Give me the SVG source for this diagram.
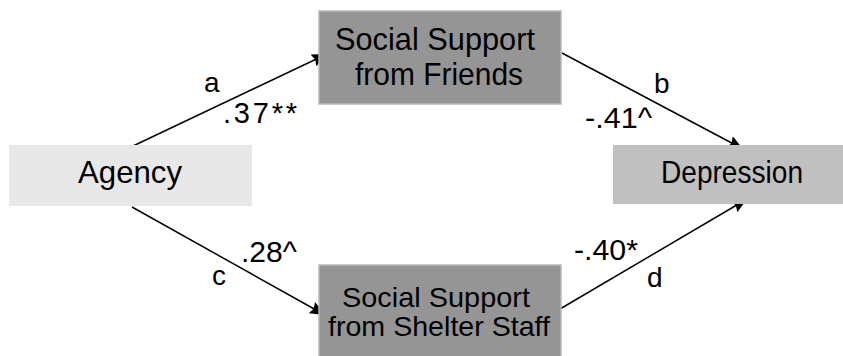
<svg xmlns="http://www.w3.org/2000/svg" width="843" height="356" viewBox="0 0 843 356">
<defs>
<style>
.box-dark{fill:#959595;stroke:#b8b8b8;stroke-width:1.5}
.box-light{fill:#e8e8e8}
.box-mid{fill:#c0c0c0}
text{font-family:"Liberation Sans",Arial,sans-serif;fill:#000}
.node{font-size:32px;text-anchor:middle}
.node-sm{font-size:28px;text-anchor:middle}
.lbl{font-size:29px}
.let{font-size:28px}
.conn{stroke:#000;stroke-width:1.5;fill:none;marker-end:url(#ah)}
</style>
<marker id="ah" markerUnits="userSpaceOnUse" markerWidth="16" markerHeight="13" refX="15" refY="6.5" orient="auto">
<path d="M0,0 L15,6.5 L0,13 L2,6.5 Z" fill="#000"/>
</marker>
</defs>
<rect width="843" height="356" fill="#fff"/>
<g id="connectors">
<line class="conn" x1="133" y1="146" x2="327" y2="54"/>
<line class="conn" x1="562" y1="53" x2="743" y2="149"/>
<line class="conn" x1="132" y1="207" x2="325" y2="315"/>
<line class="conn" x1="560" y1="309" x2="747" y2="199"/>
</g>
<g id="node-friends">
<rect class="box-dark" x="319" y="11" width="242" height="93"/>
<text class="node" x="435" y="50" textLength="200" lengthAdjust="spacingAndGlyphs">Social Support</text>
<text class="node" x="439" y="85" textLength="168" lengthAdjust="spacingAndGlyphs">from Friends</text>
</g>
<g id="node-agency">
<rect class="box-light" x="9" y="145" width="243" height="61"/>
<text class="node" x="130" y="183" textLength="104" lengthAdjust="spacingAndGlyphs">Agency</text>
</g>
<g id="node-depression">
<rect class="box-mid" x="613" y="145" width="232" height="59"/>
<text class="node" x="732" y="183" textLength="142" lengthAdjust="spacingAndGlyphs">Depression</text>
</g>
<g id="node-staff">
<rect class="box-dark" x="319" y="265" width="242" height="93"/>
<text class="node-sm" x="436" y="307" textLength="188" lengthAdjust="spacingAndGlyphs">Social Support</text>
<text class="node-sm" x="439" y="336" textLength="222" lengthAdjust="spacingAndGlyphs">from Shelter Staff</text>
</g>
<g id="labels">
<text class="let" x="204" y="92">a</text>
<text class="lbl" x="223" y="123" textLength="74" lengthAdjust="spacing">.37**</text>
<text class="let" x="654" y="93">b</text>
<text class="lbl" x="585" y="128" textLength="67" lengthAdjust="spacingAndGlyphs">-.41^</text>
<text class="lbl" x="241" y="262" textLength="56" lengthAdjust="spacingAndGlyphs">.28^</text>
<text class="let" x="212" y="285">c</text>
<text class="lbl" x="574" y="260" textLength="64" lengthAdjust="spacingAndGlyphs">-.40*</text>
<text class="let" x="647" y="287">d</text>
</g>
</svg>
